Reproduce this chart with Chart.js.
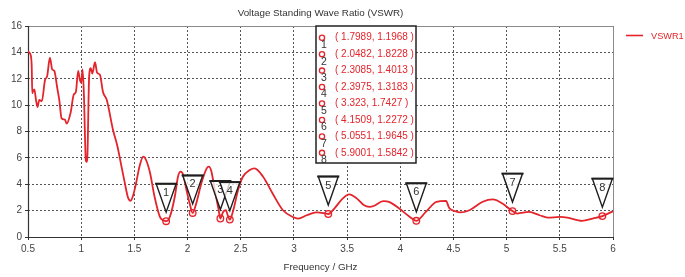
<!DOCTYPE html>
<html>
<head>
<meta charset="utf-8">
<script src="https://cdn.jsdelivr.net/npm/chart.js@4"></script>
<style>
html,body{margin:0;padding:0;background:#fff;}
canvas{display:block;}
</style>
</head>
<body>
<canvas id="c" width="685" height="277"></canvas>
<script>
// ---- data ----
const freq = [0.50,0.51,0.525,0.535,0.54,0.55,0.56,0.575,0.59,0.606,0.63,0.66,0.68,0.706,0.728,0.747,0.775,0.794,0.816,0.847,0.863,0.90,0.93,0.95,0.972,0.988,1.0,1.013,1.026,1.044,1.052,1.058,1.075,1.09,1.105,1.13,1.15,1.176,1.205,1.24,1.30,1.34,1.38,1.41,1.44,1.465,1.49,1.514,1.55,1.583,1.60,1.645,1.69,1.74,1.77,1.7989,1.833,1.88,1.91,1.934,1.96,1.99,2.02,2.0482,2.08,2.13,2.18,2.20,2.225,2.256,2.29,2.3085,2.334,2.36,2.38,2.3975,2.43,2.475,2.52,2.585,2.63,2.71,2.80,2.897,2.99,3.04,3.12,3.21,3.30,3.323,3.38,3.46,3.52,3.59,3.66,3.71,3.75,3.84,3.90,3.99,4.09,4.1509,4.24,4.34,4.43,4.46,4.52,4.56,4.65,4.775,4.87,4.96,5.0551,5.10,5.21,5.31,5.385,5.50,5.57,5.71,5.81,5.9001,6.0];
const vswr = [14.1,14.0,13.8,12.9,10.9,11.1,11.2,10.4,9.85,10.4,10.3,11.9,12.2,13.6,12.7,12.6,11.3,10.4,9.0,8.9,8.6,9.4,10.8,11.0,12.6,11.9,11.7,12.7,10.7,5.8,5.7,6.0,12.2,12.8,12.4,13.25,12.45,12.3,11.0,10.4,8.1,6.9,5.3,4.1,3.0,2.75,3.2,4.0,5.4,6.1,6.0,4.95,3.05,1.52,1.27,1.1968,1.52,3.05,4.57,4.95,4.7,3.56,2.54,1.8228,2.5,4.07,5.2,5.33,4.95,3.56,2.16,1.4013,1.9,2.03,1.6,1.3183,2.03,3.56,4.57,5.08,5.2,4.57,3.3,2.03,1.52,1.4,1.65,1.86,1.78,1.7427,2.16,2.93,3.23,2.93,2.41,2.29,2.35,2.72,2.65,2.16,1.52,1.2272,1.9,2.67,2.74,2.2,1.95,1.86,2.03,2.67,2.85,2.54,1.9645,1.78,1.9,1.65,1.47,1.52,1.47,1.22,1.4,1.5842,1.96];
const markerFreq = [1.7989,2.0482,2.3085,2.3975,3.323,4.1509,5.0551,5.9001];
const markerVswr = [1.1968,1.8228,1.4013,1.3183,1.7427,1.2272,1.9645,1.5842];
const markerLabels = ['1','2','3','4','5','6','7','8'];
const xTicks = [0.5,1,1.5,2,2.5,3,3.5,4,4.5,5,5.5,6];
const xTickLabels = ['0.5','1','1.5','2','2.5','3','3.5','4','4.5','5','5.5','6'];
const yTicks = [0,2,4,6,8,10,12,14,16];
const yTickLabels = ['0','2','4','6','8','10','12','14','16'];
const seriesName = 'VSWR1';
const titleText = 'Voltage Standing Wave Ratio (VSWR)';
const xTitleText = 'Frequency / GHz';

const RED = '#e3242b';
const FONT = '"Liberation Sans", Arial, sans-serif';

const decor = {
  id: 'decor',
  beforeDatasetsDraw(chart) {
    const {ctx, chartArea: a} = chart;
    ctx.save();
    ctx.lineWidth = 1;
    ctx.strokeStyle = '#8a8a8a';
    ctx.beginPath();
    ctx.moveTo(a.left, a.top + 0.5); ctx.lineTo(a.right + 0.5, a.top + 0.5);
    ctx.lineTo(a.right + 0.5, a.bottom);
    ctx.stroke();
    ctx.strokeStyle = '#333';
    ctx.lineWidth = 1.2;
    ctx.beginPath();
    ctx.moveTo(a.left + 0.5, a.top); ctx.lineTo(a.left + 0.5, a.bottom + 0.5);
    ctx.lineTo(a.right + 0.5, a.bottom + 0.5);
    ctx.stroke();
    ctx.restore();
  },
  afterDatasetsDraw(chart) {
    const {ctx, chartArea: a, scales: {x, y}} = chart;
    ctx.save();
    // triangles
    for (let i = 0; i < markerFreq.length; i++) {
      const px = x.getPixelForValue(markerFreq[i]);
      const py = y.getPixelForValue(markerVswr[i]);
      const tip = py - 9, top = py - 37.5, hw = 10;
      ctx.beginPath();
      ctx.moveTo(px - hw, top); ctx.lineTo(px + hw, top); ctx.lineTo(px, tip); ctx.closePath();
      ctx.fillStyle = 'rgba(255,255,255,0.75)';
      ctx.fill();
      ctx.strokeStyle = '#1e1e1e';
      ctx.lineWidth = 1.4;
      ctx.stroke();
      ctx.beginPath();
      ctx.moveTo(px - hw - 1, top); ctx.lineTo(px + hw + 1, top);
      ctx.lineWidth = 2; ctx.stroke();
      ctx.fillStyle = '#333';
      ctx.font = '11px ' + FONT;
      ctx.textAlign = 'center'; ctx.textBaseline = 'middle';
      ctx.fillText(markerLabels[i], px, top + 9);
    }
    // data box
    const bx = 316, by = a.top, bw = 100, bh = 137;
    ctx.fillStyle = '#fff';
    ctx.fillRect(bx, by, bw, bh);
    ctx.strokeStyle = '#222'; ctx.lineWidth = 1.5;
    ctx.strokeRect(bx, by, bw, bh);
    for (let i = 0; i < markerFreq.length; i++) {
      const ry = by + 11.7 + i * 16.45;
      ctx.beginPath();
      ctx.arc(bx + 6, ry, 2.6, 0, Math.PI * 2);
      ctx.strokeStyle = RED; ctx.lineWidth = 1.3; ctx.stroke();
      ctx.fillStyle = '#333';
      ctx.font = '10.5px ' + FONT;
      ctx.textAlign = 'center'; ctx.textBaseline = 'middle';
      ctx.fillText(markerLabels[i], bx + 8, ry + 7.5);
      ctx.fillStyle = RED;
      ctx.textAlign = 'left';
      ctx.font = '10px ' + FONT;
      ctx.fillText('( ' + markerFreq[i] + ', ' + markerVswr[i] + ' )', bx + 19, ry);
    }
    // title, axis title, legend
    const cx = (a.left + a.right) / 2;
    ctx.fillStyle = '#333';
    ctx.font = '9.8px ' + FONT;
    ctx.textAlign = 'center'; ctx.textBaseline = 'middle';
    ctx.fillText(titleText, cx, 13);
    ctx.fillText(xTitleText, cx, 267);
    ctx.strokeStyle = RED; ctx.lineWidth = 1.6;
    ctx.beginPath(); ctx.moveTo(626, 35.5); ctx.lineTo(643, 35.5); ctx.stroke();
    ctx.fillStyle = RED; ctx.textAlign = 'left';
    ctx.font = '9.2px ' + FONT;
    ctx.fillText(seriesName, 651, 36);
    ctx.restore();
  }
};

new Chart(document.getElementById('c'), {
  type: 'line',
  data: {
    datasets: [
      {
        label: seriesName,
        data: freq.map((f, i) => ({x: f, y: vswr[i]})),
        borderColor: RED,
        borderWidth: 1.8,
        pointRadius: 0,
        cubicInterpolationMode: 'monotone',
        fill: false
      },
      {
        label: 'markers',
        data: markerFreq.map((f, i) => ({x: f, y: markerVswr[i]})),
        showLine: false,
        pointRadius: 3.3,
        pointBorderColor: RED,
        pointBackgroundColor: 'rgba(255,235,235,0.9)',
        pointBorderWidth: 1.3
      }
    ]
  },
  options: {
    responsive: false,
    animation: false,
    events: [],
    layout: {padding: {left: 0, top: 26, right: 72, bottom: 0}},
    plugins: {legend: {display: false}, tooltip: {enabled: false}, title: {display: false}},
    scales: {
      x: {
        type: 'linear', min: 0.5, max: 6,
        afterBuildTicks: s => { s.ticks = xTicks.map(v => ({value: v})); },
        afterFit: s => { s.height = 40; },
        ticks: {callback: (v, i) => xTickLabels[i], color: '#444', font: {size: 10, family: FONT}, padding: 3, maxRotation: 0, autoSkip: false},
        grid: {color: '#555', lineWidth: 1, tickLength: 3, tickColor: '#333', tickBorderDash: []},
        border: {display: false, dash: [2, 2]}
      },
      y: {
        type: 'linear', min: 0, max: 16,
        afterBuildTicks: s => { s.ticks = yTicks.map(v => ({value: v})); },
        afterFit: s => { s.width = 28; },
        ticks: {callback: (v, i) => yTickLabels[i], color: '#444', font: {size: 10, family: FONT}, padding: 3},
        grid: {color: '#555', lineWidth: 1, tickLength: 3, tickColor: '#333', tickBorderDash: []},
        border: {display: false, dash: [2, 2]}
      }
    }
  },
  plugins: [decor]
});
</script>
</body>
</html>
